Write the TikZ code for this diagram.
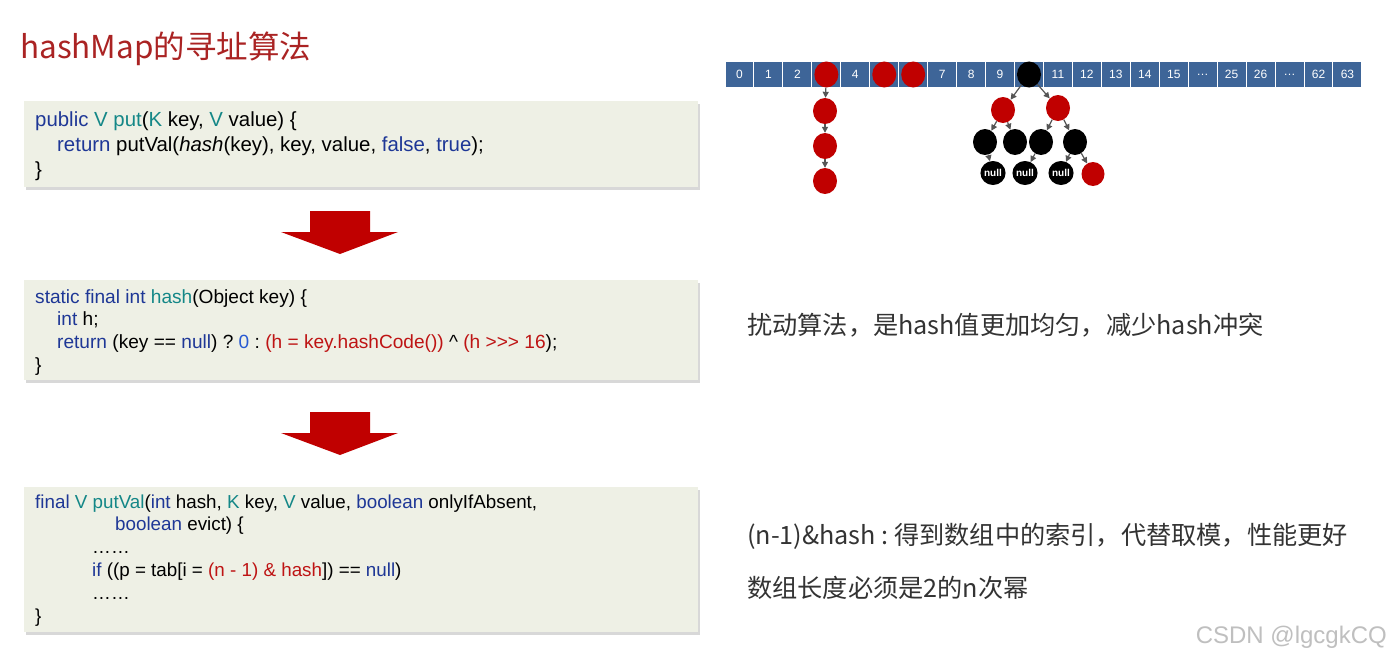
\documentclass[tikz,border=0pt]{standalone}
\usepackage{fontspec}
\setmainfont{Liberation Sans}
\newfontfamily\cjk{Noto Sans CJK SC}
\usepackage{xcolor}
\usetikzlibrary{shapes.geometric,shadows,arrows.meta}
\frenchspacing

\definecolor{boxbg}{RGB}{238,240,229}
\definecolor{kwblue}{RGB}{30,55,150}
\definecolor{tpteal}{RGB}{20,135,135}
\definecolor{litred}{RGB}{190,20,20}
\definecolor{numblue}{RGB}{40,90,210}
\definecolor{arrred}{RGB}{192,0,0}
\definecolor{cellblue}{RGB}{62,101,152}
\definecolor{nodered}{RGB}{192,0,0}
\definecolor{titlered}{RGB}{170,35,35}
\definecolor{linkgray}{RGB}{85,85,85}
\definecolor{notegray}{RGB}{51,51,51}

\newcommand{\kwd}[1]{\textcolor{kwblue}{#1}}
\newcommand{\tpe}[1]{\textcolor{tpteal}{#1}}
\newcommand{\rlit}[1]{\textcolor{litred}{#1}}
\newcommand{\nlit}[1]{\textcolor{numblue}{#1}}

\begin{document}
\begin{tikzpicture}[x=1pt,y=-1pt,
  codebox/.style={fill=boxbg,anchor=north west,inner sep=0pt,
    drop shadow={shadow xshift=2pt,shadow yshift=-3pt,fill=black!30}},
  code/.style={anchor=north west,inner sep=0pt,align=left},
  cell/.style={draw=white,line width=1pt,fill=cellblue,minimum width=28.95pt,
    minimum height=25pt,inner sep=0pt,text=white,font=\fontsize{12}{12}\selectfont},
  rb/.style={ellipse,fill=nodered,minimum width=24pt,minimum height=26pt,inner sep=0pt},
  bk/.style={rb,fill=black},
  nil/.style={ellipse,fill=black,minimum width=23pt,minimum height=24pt,inner sep=0pt,
    text=white,font=\bfseries\fontsize{10}{10}\selectfont},
  link/.style={draw=linkgray,line width=1.2pt,-{Triangle[length=6pt,width=6pt]}},
  note/.style={anchor=west,inner sep=0pt,text=notegray,font=\cjk\fontsize{25.2}{25}\selectfont}]
\fill[white] (0,0) rectangle (1391,661);
\useasboundingbox (0,0) rectangle (1391,661);

% title
\node[anchor=west,inner sep=0pt,text=titlered,font=\cjk\fontsize{31.5}{32}\selectfont]
  (title) at (20,49) {hashMap的寻址算法};

% code boxes
\node[codebox,minimum width=674pt,minimum height=86pt] (box1) at (24,101) {};
\node[codebox,minimum width=674pt,minimum height=100pt] (box2) at (24,280) {};
\node[codebox,minimum width=674pt,minimum height=145pt] (box3) at (24,487) {};

\node[code,font=\fontsize{20.4}{25}\selectfont] (code1) at (35,109)
  {\strut\kwd{public} \tpe{V} \tpe{put}(\tpe{K} key, \tpe{V} value) \{\\
   \hspace*{22pt}\kwd{return} putVal(\textit{hash}(key), key, value, \kwd{false}, \kwd{true});\\
   \}};
\node[code,font=\fontsize{19.1}{22.8}\selectfont] (code2) at (35,287)
  {\strut\kwd{static final int} \tpe{hash}(Object key) \{\\
   \hspace*{22pt}\kwd{int} h;\\
   \hspace*{22pt}\kwd{return} (key == \kwd{null}) ? \nlit{0} : \rlit{(h = key.hashCode())} \textasciicircum{} \rlit{(h >{}>{}> 16});\\
   \}};
\node[code,font=\fontsize{18.8}{22.8}\selectfont] (code3) at (35,492)
  {\strut\kwd{final} \tpe{V} \tpe{putVal}(\kwd{int} hash, \tpe{K} key, \tpe{V} value, \kwd{boolean} onlyIfAbsent,\\
   \hspace*{80pt}\kwd{boolean} evict) \{\\
   \hspace*{57pt}……\\
   \hspace*{57pt}\kwd{if} ((p = tab[i = \rlit{(n - 1) \& hash}]) == \kwd{null})\\
   \hspace*{57pt}……\\
   \}};

% red block arrows
\foreach \dy in {0,201}
  \fill[arrred] (310,211+\dy) -- (370,211+\dy) -- (370,232+\dy) -- (398,232+\dy)
    -- (340,254+\dy) -- (281,232+\dy) -- (310,232+\dy) -- cycle;

% table
\foreach \lbl [count=\i from 0] in {0,1,2,,4,,,7,8,9,,11,12,13,14,15,\dots,25,26,\dots,62,63}
  \node[cell] (c\i) at ({739.5+\i*28.95},74.5) {\lbl};
\node[rb] at (c5) {};
\node[rb] at (c6) {};

% list
\node[rb] (k0) at (c3) {};
\node[rb] (k1) at (825,111) {};
\node[rb] (k2) at (825,146) {};
\node[rb] (k3) at (825,181) {};

% tree
\node[bk] (t0) at (c10) {};
\node[rb] (t1) at (1003,110) {};
\node[rb] (t2) at (1058,108) {};
\node[bk] (t3) at (985,142) {};
\node[bk] (t4) at (1015,142) {};
\node[bk] (t5) at (1041,142) {};
\node[bk] (t6) at (1075,142) {};
\node[nil] (n1) at (993,173) {null};
\node[nil] (n2) at (1025,173) {null};
\node[nil] (n3) at (1061,173) {null};
\node[rb,minimum width=23pt,minimum height=24pt] (t7) at (1093,174) {};

\foreach \a/\b in {k0/k1,k1/k2,k2/k3,t0/t1,t0/t2,t1/t3,t1/t4,t2/t5,t2/t6,t3/n1,t5/n2,t6/n3,t6/t7}
  \draw[link] (\a) -- (\b);

% notes
\node[note] (note1) at (747,325) {扰动算法，是hash值更加均匀，减少hash冲突};
\node[note] (note2) at (747,536) {(n-1)\&hash : 得到数组中的索引，代替取模，性能更好};
\node[note] (note3) at (747,588) {数组长度必须是2的n次幂};
\node[anchor=east,inner sep=0pt,text=black!25,font=\fontsize{24}{24}\selectfont]
  (mark) at (1387,637) {CSDN @lgcgkCQ};
\end{tikzpicture}
\end{document}
